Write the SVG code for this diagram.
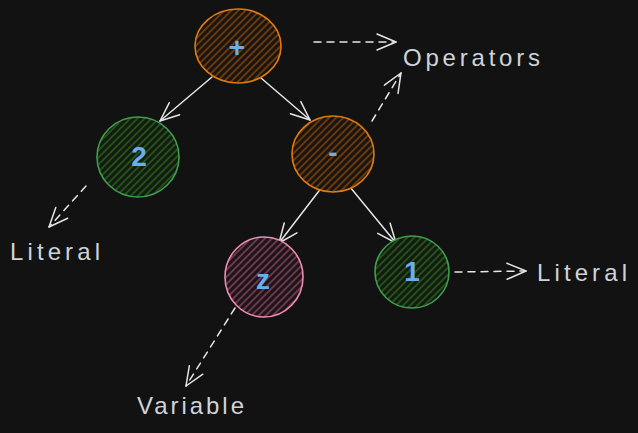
<svg xmlns="http://www.w3.org/2000/svg" width="638" height="433" viewBox="0 0 638 433">
<style>
.bg{fill:#121212}
.lbl{font-family:"Liberation Sans",Arial,sans-serif;font-size:24px;fill:#ced4da}
.val{font-family:"Liberation Sans",Arial,sans-serif;font-size:28px;font-weight:bold;fill:#6aaeea;text-anchor:middle;dominant-baseline:central}
.edge{fill:none;stroke:#e6e6e6;stroke-width:1.5;stroke-linecap:round;marker-end:url(#ah)}
.dash{stroke-dasharray:7 6}
.orange{stroke:#e07a10;stroke-width:1.6;fill:url(#hO)}
.green{stroke:#3ea04e;stroke-width:1.6;fill:url(#hG)}
.pink{stroke:#f08bb8;stroke-width:1.6;fill:url(#hP)}
</style>
<defs>
<marker id="ah" markerUnits="userSpaceOnUse" markerWidth="22" markerHeight="18" viewBox="0 0 22 18" refX="21" refY="9" orient="auto">
<path d="M2,1 L21,9 L2,17" fill="none" stroke="#e6e6e6" stroke-width="1.5" stroke-linecap="round" stroke-linejoin="round"/>
</marker>
<pattern id="hO" patternUnits="userSpaceOnUse" width="5" height="5" patternTransform="rotate(45)">
<rect width="5" height="5" fill="#1a1410"/><line x1="1" y1="0" x2="1" y2="5" stroke="#8f4d0a" stroke-width="1.3"/>
</pattern>
<pattern id="hG" patternUnits="userSpaceOnUse" width="5" height="5" patternTransform="rotate(45)">
<rect width="5" height="5" fill="#121a12"/><line x1="1" y1="0" x2="1" y2="5" stroke="#2f6c1a" stroke-width="1.3"/>
</pattern>
<pattern id="hP" patternUnits="userSpaceOnUse" width="5" height="5" patternTransform="rotate(45)">
<rect width="5" height="5" fill="#1e1418"/><line x1="1" y1="0" x2="1" y2="5" stroke="#8f4c66" stroke-width="1.3"/>
</pattern>
</defs>
<rect class="bg" x="0" y="0" width="638" height="433"/>
<g id="connectors">
<path class="edge" d="M212,77 L160,121"/>
<path class="edge" d="M261,78 L310,120"/>
<path class="edge" d="M322,187 L279,243"/>
<path class="edge" d="M350,187 L396,243"/>
<path class="edge dash" d="M314,42 L396,42"/>
<path class="edge dash" d="M372,121 L401,73"/>
<path class="edge dash" d="M86,186 L49,227"/>
<path class="edge dash" d="M455,272 L526,271"/>
<path class="edge dash" d="M235,308 L186,386"/>
</g>
<g id="node-plus"><ellipse class="orange" cx="238" cy="46" rx="43" ry="37"/><text class="val" x="237" y="47">+</text></g>
<g id="node-2"><ellipse class="green" cx="138" cy="157" rx="41" ry="40"/><text class="val" x="139" y="156">2</text></g>
<g id="node-minus"><ellipse class="orange" cx="333" cy="154" rx="41" ry="38"/><text class="val" x="333" y="152">-</text></g>
<g id="node-z"><ellipse class="pink" cx="264" cy="277" rx="39" ry="40"/><text class="val" x="263" y="279">z</text></g>
<g id="node-1"><ellipse class="green" cx="412" cy="272" rx="37" ry="36"/><text class="val" x="412" y="271">1</text></g>
<g id="label-operators"><text class="lbl" x="403" y="66" textLength="137" lengthAdjust="spacing">Operators</text></g>
<g id="label-literal-left"><text class="lbl" x="10" y="260" textLength="90" lengthAdjust="spacing">Literal</text></g>
<g id="label-literal-right"><text class="lbl" x="537" y="281" textLength="90" lengthAdjust="spacing">Literal</text></g>
<g id="label-variable"><text class="lbl" x="137" y="414" textLength="107" lengthAdjust="spacing">Variable</text></g>
</svg>
